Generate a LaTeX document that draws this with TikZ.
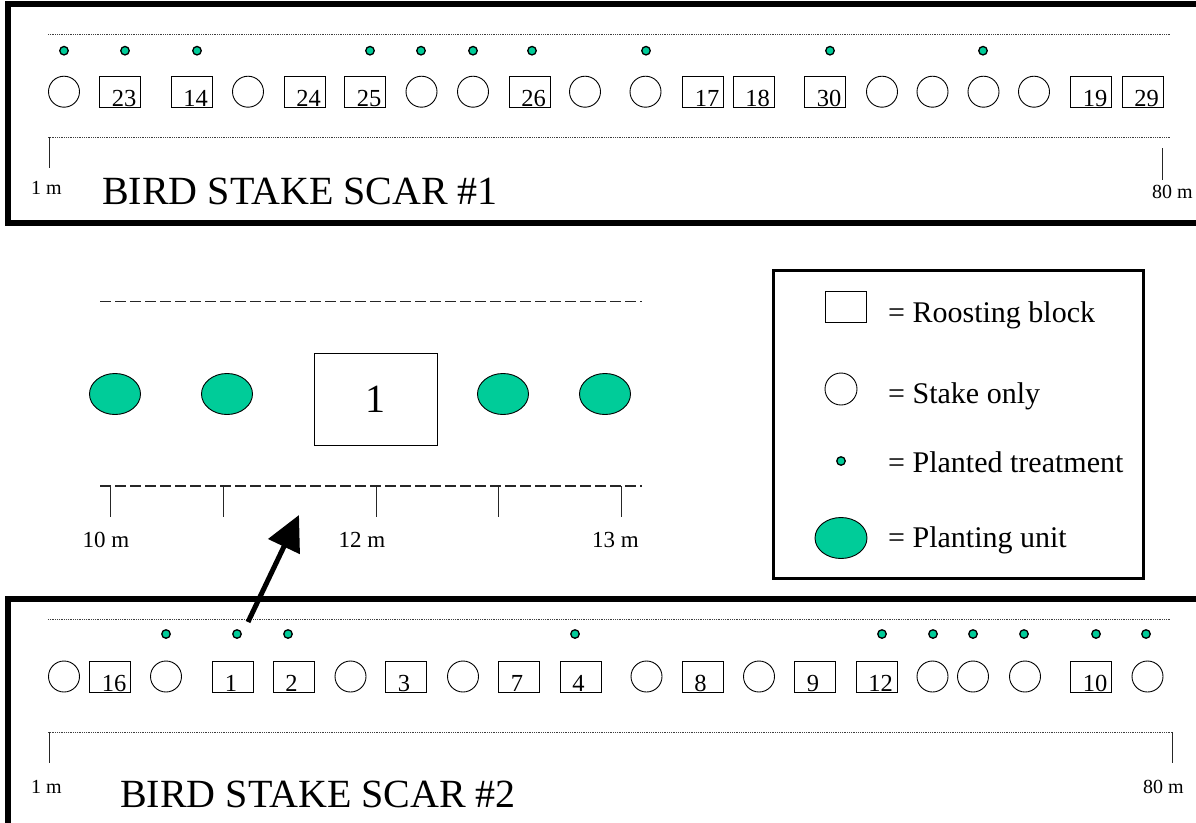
\documentclass[tikz,border=0pt]{standalone}
\usepackage{fontspec}
\setmainfont{Liberation Serif}
\usetikzlibrary{shapes.geometric,arrows.meta}
\definecolor{plantgreen}{RGB}{0,204,153}
\tikzset{
  frame/.style={draw=black, line width=6pt},
  dotline/.style={draw=black!75, line width=0.7pt, dash pattern=on 0.8pt off 1pt},
  dashline/.style={draw=black!85, line width=1.1pt, dash pattern=on 11pt off 4pt},
  tickline/.style={draw=black!85, line width=1pt},
  stake/.style={circle, draw=black, line width=0.9pt, minimum size=31pt, inner sep=0pt},
  roost/.style={rectangle, draw=black, line width=0.9pt, minimum width=41pt, minimum height=31pt, inner sep=0pt},
  numtxt/.style={inner sep=0pt, font=\fontsize{24.5}{24.5}\selectfont},
  ptreat/.style={circle, draw=black, line width=1.3pt, fill=plantgreen, minimum size=8.5pt, inner sep=0pt},
  punit/.style={ellipse, draw=black, line width=0.9pt, fill=plantgreen, minimum width=51pt, minimum height=41pt, inner sep=0pt},
  smalltxt/.style={inner sep=0pt, font=\fontsize{20}{20}\selectfont},
  midtxt/.style={inner sep=0pt, font=\fontsize{23}{23}\selectfont},
  titletxt/.style={inner sep=0pt, font=\fontsize{40}{40}\selectfont},
  legtxt/.style={inner sep=0pt, font=\fontsize{30}{30}\selectfont, anchor=base west},
  arrowline/.style={draw=black, line width=5pt, -{Triangle[length=35pt,width=34pt]}},
}
\begin{document}
\begin{tikzpicture}[x=1pt,y=-1pt]
\useasboundingbox (0,0) rectangle (1196,822);
\clip (0,0) rectangle (1196,822);
\fill[white] (0,0) rectangle (1196,822);

% ---------------- Scar 1 ----------------
\draw[frame] (7.5,3.5) rectangle (1220,223);
\coordinate (s1ul) at (48,34.5); \coordinate (s1ur) at (1171,34.5);
\coordinate (s1ll) at (48,137); \coordinate (s1lr) at (1171,137);
\draw[dotline] (s1ul) -- (s1ur);
\draw[dotline] (s1ll) -- (s1lr);
\coordinate (s1t1a) at (49,137); \coordinate (s1t1b) at (49,168);
\coordinate (s1t2a) at (1162,148); \coordinate (s1t2b) at (1162,180);
\draw[tickline] (s1t1a) -- (s1t1b);
\draw[tickline] (s1t2a) -- (s1t2b);
\node[smalltxt, anchor=base west] (s1left) at (31,194) {1 m};
\node[smalltxt, anchor=base west] (s1right) at (1152,198) {80 m};
\node[titletxt, anchor=base west] (s1title) at (102,204) {BIRD STAKE SCAR \#1};

\foreach \x [count=\i] in {64,125,197,370,421,473,532,646,830,983}
  \node[ptreat] (s1d\i) at (\x,50.7) {};
\foreach \x [count=\i] in {64,248,421.5,473,585,645.5,882,932.5,983.5,1034}
  \node[stake] (s1c\i) at (\x,91.7) {};
\foreach \x/\n in {120/23,191.5/14,304.5/24,365/25,529.5/26,703/17,753.5/18,825/30,1091/19,1142.5/29}{
  \node[roost] (s1b\n) at (\x,91.5) {};
  \node[numtxt, anchor=base west] (s1n\n) at ([xshift=12.5pt,yshift=1pt]s1b\n.south west) {\n};
}

% ---------------- Scar 2 ----------------
\draw[frame] (7.5,598.5) rectangle (1220,840);
\coordinate (s2ul) at (48,619); \coordinate (s2ur) at (1171,619);
\coordinate (s2ll) at (48,732); \coordinate (s2lr) at (1172,732);
\draw[dotline] (s2ul) -- (s2ur);
\draw[dotline] (s2ll) -- (s2lr);
\coordinate (s2t1a) at (49,732); \coordinate (s2t1b) at (49,763);
\coordinate (s2t2a) at (1172,732); \coordinate (s2t2b) at (1172,763);
\draw[tickline] (s2t1a) -- (s2t1b);
\draw[tickline] (s2t2a) -- (s2t2b);
\node[smalltxt, anchor=base west] (s2left) at (31,793) {1 m};
\node[smalltxt, anchor=base west] (s2right) at (1143,793) {80 m};
\node[titletxt, anchor=base west] (s2title) at (120,807) {BIRD STAKE SCAR \#2};

\foreach \x [count=\i] in {166,237,288,575,882,933,973,1024,1096,1146}
  \node[ptreat] (s2d\i) at (\x,634) {};
\foreach \x [count=\i] in {64,166,350.5,463,646.5,759,932.5,973,1025,1147.5}
  \node[stake] (s2c\i) at (\x,676.5) {};
\foreach \x/\n in {110/16,233/1,293.5/2,406/3,519/7,580.5/4,702.5/8,815/9,876.5/12,1091/10}{
  \node[roost] (s2b\n) at (\x,676.5) {};
  \node[numtxt, anchor=base west] (s2n\n) at ([xshift=12.5pt,yshift=1pt]s2b\n.south west) {\n};
}

% ---------------- Detail ----------------
\coordinate (mul) at (100,301.5); \coordinate (mur) at (642,301.5);
\coordinate (mll) at (100,486); \coordinate (mlr) at (642,486);
\draw[dashline] (mul) -- (mur);
\draw[dashline] (mll) -- (mlr);
\foreach \x [count=\i] in {110,223,376,498,621}{
  \coordinate (mt\i a) at (\x,486); \coordinate (mt\i b) at (\x,517);
  \draw[tickline] (mt\i a) -- (mt\i b);
}
\node[midtxt, anchor=base] (m10) at (106,547) {10 m};
\node[midtxt, anchor=base] (m12) at (362,547) {12 m};
\node[midtxt, anchor=base] (m13) at (615.5,547) {13 m};
\node[punit] (u1) at (115,394) {};
\node[punit] (u2) at (227,394) {};
\node[punit] (u3) at (503,394) {};
\node[punit] (u4) at (605,394) {};
\node[rectangle, draw=black, line width=0.9pt, minimum width=122.5pt, minimum height=92pt, inner sep=0pt, font=\fontsize{40}{40}\selectfont] (blk1) at (375.75,399) {1};

% arrow
\coordinate (atail) at (248,622);
\coordinate (ahead) at (299,515);
\draw[arrowline] (atail) -- (ahead);

% ---------------- Legend ----------------
\node[rectangle, draw=black, line width=3pt, minimum width=370pt, minimum height=308pt, inner sep=0pt] (legend) at (958,424) {};
\node[roost] (lg1) at (846,307) {};
\node[stake, minimum size=32pt] (lg2) at (841,389) {};
\node[ptreat] (lg3) at (841,461) {};
\node[punit, minimum width=52pt] (lg4) at (841,538) {};
\node[legtxt] (lt1) at (888,322) {= Roosting block};
\node[legtxt] (lt2) at (888,403) {= Stake only};
\node[legtxt] (lt3) at (888,472) {= Planted treatment};
\node[legtxt] (lt4) at (888,547) {= Planting unit};
\end{tikzpicture}
\end{document}
